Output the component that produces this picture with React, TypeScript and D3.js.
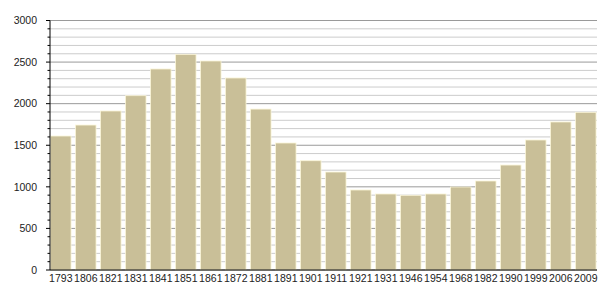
import React from "react";
import * as d3 from "d3";

const years = ["1793","1806","1821","1831","1841","1851","1861","1872","1881","1891","1901","1911","1921","1931","1946","1954","1968","1982","1990","1999","2006","2009"];
const population = [1611,1743,1912,2096,2417,2593,2513,2309,1935,1527,1314,1178,962,914,898,914,998,1070,1262,1563,1780,1896];
const yTicks = [0,500,1000,1500,2000,2500,3000];

const W = 605, H = 300;
const left = 50, right = 600, top = 20.5, bottom = 270;

export default function App() {
  const x = d3.scaleBand<string>().domain(years).range([left, right]).paddingInner(0.18).paddingOuter(0.09).align(0.12);
  const y = d3.scaleLinear().domain([0, 3000]).range([bottom, top]);
  const minor = d3.range(0, 3001, 100);
  const gridRight = 597;
  return (
    <svg width={W} height={H} style={{ position: "absolute", left: 0, top: 0, fontFamily: "'Liberation Sans', Arial, sans-serif" }}>
      <rect x={0} y={0} width={W} height={H} fill="#ffffff" />
      {minor.map((v) => (
        <line key={"g" + v} x1={left} x2={gridRight} y1={y(v) } y2={y(v)}
          stroke={v % 500 === 0 ? "#9a9a9a" : "#cccccc"} strokeWidth={1} />
      ))}
      {minor.map((v) => (
        <line key={"t" + v} x1={v % 500 === 0 ? left - 4 : left - 2.5} x2={left} y1={y(v)} y2={y(v)} stroke="#000" strokeWidth={1} />
      ))}
      {years.map((yr, i) => (
        <rect key={yr} x={x(yr)} y={y(population[i])} width={x.bandwidth()} height={bottom - y(population[i])}
          fill="#c9bf98" stroke="#fbf6d8" strokeWidth={0.8} />
      ))}
      <line x1={left} x2={left} y1={top} y2={bottom} stroke="#000" strokeWidth={1} />
      <line x1={left} x2={gridRight} y1={bottom} y2={bottom} stroke="#000" strokeWidth={1.2} />
      {yTicks.map((v) => (
        <text key={"l" + v} x={37} y={y(v) + 3.8} textAnchor="end" fontSize={10.5} fill="#222">{v}</text>
      ))}
      {years.map((yr) => (
        <text key={"x" + yr} x={(x(yr) as number) + x.bandwidth() / 2} y={282} textAnchor="middle" fontSize={10.5} fill="#222">{yr}</text>
      ))}
    </svg>
  );
}
